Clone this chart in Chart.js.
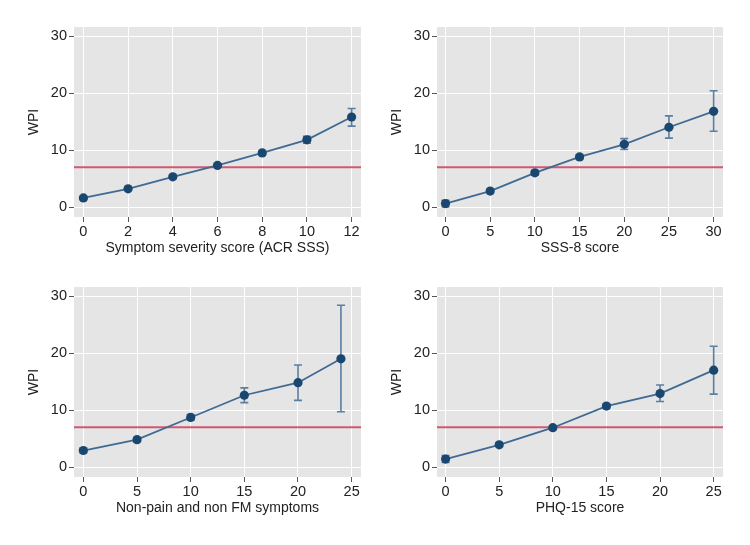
<!DOCTYPE html>
<html>
<head>
<meta charset="utf-8">
<script src="https://cdn.jsdelivr.net/npm/chart.js@4"></script>
<style>
  html, body { margin: 0; padding: 0; background: #ffffff; }
  body { width: 750px; height: 545px; position: relative; overflow: hidden; }
  .panel { position: absolute; }
</style>
</head>
<body>
<div class="panel" style="left:0;top:0;"><canvas id="c1" width="375" height="270"></canvas></div>
<div class="panel" style="left:375px;top:0;"><canvas id="c2" width="375" height="270"></canvas></div>
<div class="panel" style="left:0;top:270px;"><canvas id="c3" width="375" height="275"></canvas></div>
<div class="panel" style="left:375px;top:270px;"><canvas id="c4" width="375" height="275"></canvas></div>
<script>
// ---- Data ----
const yTicks = [0, 10, 20, 30];
const threshold = 7;
const yLabel = "WPI";

// Panel 1: Symptom severity score (ACR SSS)
const p1Title = "Symptom severity score (ACR SSS)";
const p1Ticks = [0, 2, 4, 6, 8, 10, 12];
const p1X   = [0, 2, 4, 6, 8, 10, 12];
const p1Y   = [1.6, 3.2, 5.3, 7.3, 9.5, 11.8, 15.8];
const p1Lo  = [1.3, 2.9, 5.0, 7.0, 9.1, 11.2, 14.2];
const p1Hi  = [1.9, 3.5, 5.6, 7.6, 9.9, 12.4, 17.3];

// Panel 2: SSS-8 score
const p2Title = "SSS-8 score";
const p2Ticks = [0, 5, 10, 15, 20, 25, 30];
const p2X   = [0, 5, 10, 15, 20, 25, 30];
const p2Y   = [0.6, 2.8, 6.0, 8.8, 11.0, 14.0, 16.8];
const p2Lo  = [0.0, 2.5, 5.6, 8.4, 10.1, 12.1, 13.3];
const p2Hi  = [1.2, 3.1, 6.4, 9.2, 12.0, 16.0, 20.4];

// Panel 3: Non-pain and non FM symptoms
const p3Title = "Non-pain and non FM symptoms";
const p3Ticks = [0, 5, 10, 15, 20, 25];
const p3X   = [0, 5, 10, 15, 20, 24];
const p3Y   = [2.9, 4.8, 8.7, 12.6, 14.8, 19.0];
const p3Lo  = [2.5, 4.4, 8.2, 11.3, 11.7, 9.7];
const p3Hi  = [3.3, 5.2, 9.2, 13.9, 17.9, 28.4];

// Panel 4: PHQ-15 score
const p4Title = "PHQ-15 score";
const p4Ticks = [0, 5, 10, 15, 20, 25];
const p4X   = [0, 5, 10, 15, 20, 25];
const p4Y   = [1.4, 3.9, 6.9, 10.7, 12.9, 17.0];
const p4Lo  = [0.8, 3.6, 6.6, 10.3, 11.5, 12.8];
const p4Hi  = [2.0, 4.2, 7.2, 11.1, 14.4, 21.2];

// ---- Styles ----
const FONT = "'Liberation Sans', Arial, Helvetica, sans-serif";
const PLOT_BG = '#e5e5e5';
const MARKER = '#1a476f';
const LINE = '#3f6a93';
const ERRC = '#5a7ea4';
const REF = '#cf5a70';

const bgPlugin = {
  id: 'plotBg',
  beforeDraw(chart) {
    const {ctx, chartArea: a} = chart;
    ctx.save();
    ctx.fillStyle = PLOT_BG;
    ctx.fillRect(a.left, a.top, a.right - a.left, a.bottom - a.top);
    ctx.restore();
  }
};

const errPlugin = {
  id: 'errBars',
  beforeDatasetsDraw(chart, args, opts) {
    const {ctx, scales: {x, y}} = chart;
    const xs = opts.xs, lo = opts.lo, hi = opts.hi;
    ctx.save();
    ctx.strokeStyle = ERRC;
    ctx.lineWidth = 1.6;
    for (let i = 0; i < xs.length; i++) {
      const px = x.getPixelForValue(xs[i]);
      const py1 = y.getPixelForValue(lo[i]);
      const py2 = y.getPixelForValue(hi[i]);
      ctx.beginPath();
      ctx.moveTo(px, py1); ctx.lineTo(px, py2);
      ctx.moveTo(px - 4, py1); ctx.lineTo(px + 4, py1);
      ctx.moveTo(px - 4, py2); ctx.lineTo(px + 4, py2);
      ctx.stroke();
    }
    ctx.restore();
  }
};

function makePanel(id, p) {
  const pts = p.xs.map((v, i) => ({x: v, y: p.ys[i]}));
  new Chart(document.getElementById(id), {
    type: 'scatter',
    data: {
      datasets: [
        {
          type: 'line',
          data: [{x: p.xmin, y: threshold}, {x: p.xmax, y: threshold}],
          borderColor: REF, borderWidth: 2, pointRadius: 0, order: 3
        },
        {
          type: 'line',
          data: pts,
          borderColor: LINE, borderWidth: 1.8,
          pointRadius: 4.6, pointBackgroundColor: MARKER, pointBorderColor: MARKER,
          pointBorderWidth: 0, tension: 0, order: 1
        }
      ]
    },
    options: {
      responsive: false,
      animation: false,
      devicePixelRatio: 1,
      layout: { padding: { left: 0, right: p.padR, top: p.padT, bottom: 0 } },
      plugins: {
        legend: { display: false },
        tooltip: { enabled: false },
        errBars: { xs: p.xs, lo: p.lo, hi: p.hi }
      },
      scales: {
        x: {
          type: 'linear', min: p.xmin, max: p.xmax,
          afterBuildTicks: s => { s.ticks = p.ticks.map(v => ({value: v})); },
          afterFit: s => { s.height = p.xH; },
          grid: { color: '#ffffff', lineWidth: 1, tickColor: '#555555', tickLength: 5 },
          border: { display: false },
          ticks: { color: '#222', font: { family: FONT, size: 14.5 }, padding: 1, maxRotation: 0, autoSkip: false },
          title: { display: true, text: p.title, color: '#222', font: { family: FONT, size: 14 }, padding: { top: 0, bottom: p.xTitlePad } }
        },
        y: {
          type: 'linear', min: -1.75, max: 31.6,
          afterBuildTicks: s => { s.ticks = yTicks.map(v => ({value: v})); },
          afterFit: s => { s.width = p.yW; },
          grid: { color: '#ffffff', lineWidth: 1, tickColor: '#555555', tickLength: 5 },
          border: { display: false },
          ticks: { color: '#222', font: { family: FONT, size: 14.5 }, padding: 2, autoSkip: false },
          title: { display: true, text: yLabel, color: '#222', font: { family: FONT, size: 14 }, padding: { top: p.yTitlePad, bottom: 0 } }
        }
      }
    },
    plugins: [bgPlugin, errPlugin]
  });
}

makePanel('c1', { xs: p1X, ys: p1Y, lo: p1Lo, hi: p1Hi, ticks: p1Ticks, title: p1Title,
  xmin: -0.42, xmax: 12.42, padR: 14, padT: 27, xH: 53, yW: 74, xTitlePad: 13, yTitlePad: 26 });
makePanel('c2', { xs: p2X, ys: p2Y, lo: p2Lo, hi: p2Hi, ticks: p2Ticks, title: p2Title,
  xmin: -0.95, xmax: 31.05, padR: 27, padT: 27, xH: 53, yW: 62, xTitlePad: 13, yTitlePad: 14 });
makePanel('c3', { xs: p3X, ys: p3Y, lo: p3Lo, hi: p3Hi, ticks: p3Ticks, title: p3Title,
  xmin: -0.87, xmax: 25.87, padR: 14, padT: 17, xH: 68, yW: 74, xTitlePad: 28, yTitlePad: 26 });
makePanel('c4', { xs: p4X, ys: p4Y, lo: p4Lo, hi: p4Hi, ticks: p4Ticks, title: p4Title,
  xmin: -0.8, xmax: 25.87, padR: 27, padT: 17, xH: 68, yW: 62, xTitlePad: 28, yTitlePad: 14 });
</script>
</body>
</html>
